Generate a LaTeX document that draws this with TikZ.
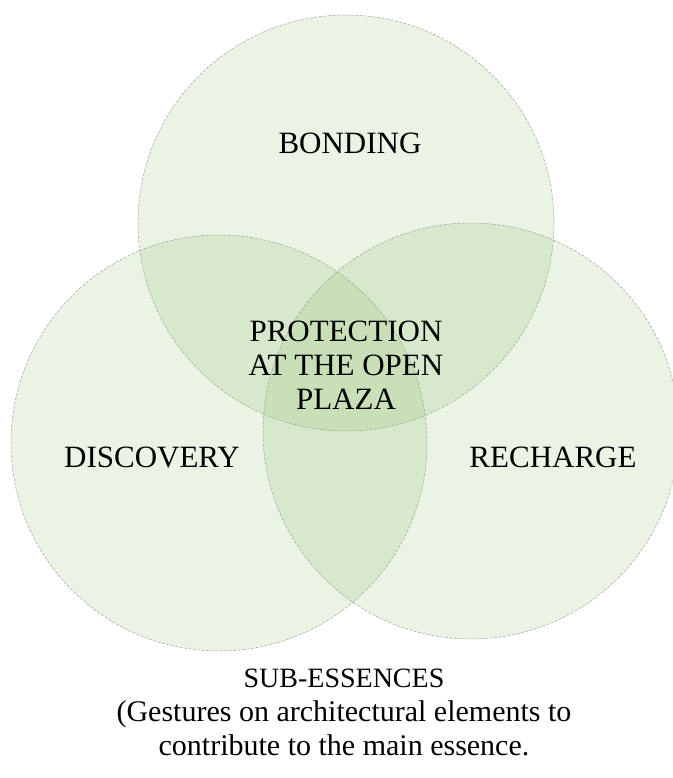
\documentclass[tikz,border=0pt]{standalone}
\usepackage{fontspec}
\setmainfont{Liberation Serif}
\usetikzlibrary{shapes.geometric}

\definecolor{leafgreen}{RGB}{112,173,71}

\begin{document}
\begin{tikzpicture}[x=1pt,y=-1pt,
    essence/.style={circle,minimum size=416pt,fill=leafgreen,fill opacity=0.15,
        draw=gray,draw opacity=0.7,dash pattern=on 3pt off 1.5pt,line width=0.5pt},
    venntext/.style={font=\fontsize{31}{34}\selectfont,align=center}]
  \useasboundingbox (0,0) rectangle (672,778);

  % Circles
  \node[essence] (bond) at (346,223) {};
  \node[essence] (disc) at (219,443) {};
  \node[essence] (rech) at (471,431) {};

  % Labels
  \node[venntext] (bondtxt) at (350,143) {BONDING};
  \node[venntext] (disctxt) at (152,457) {DISCOVERY};
  \node[venntext] (rechtxt) at (553,457) {RECHARGE};
  \node[venntext] (core) at (346,365) {PROTECTION\\AT THE OPEN\\PLAZA};

  % Caption
  \node[font=\fontsize{30}{34}\selectfont,align=center] (caption) at (344,712)
    {{\fontsize{28}{34}\selectfont SUB-ESSENCES}\\(Gestures on architectural elements to\\contribute to the main essence.};
\end{tikzpicture}
\end{document}
